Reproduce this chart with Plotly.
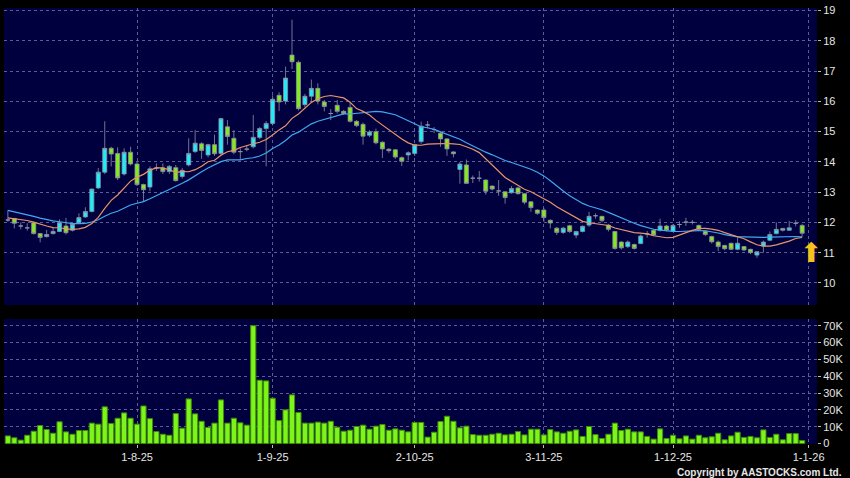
import plotly.graph_objects as go
import pandas as pd

# ---- trading calendar (HK) ----
holidays = ["2025-10-01", "2025-10-07", "2025-10-29", "2025-12-25", "2025-12-26"]
dates = [d for d in pd.bdate_range("2025-07-04", "2025-12-31")
         if d.strftime("%Y-%m-%d") not in holidays]

tick_labels = ["1-8-25", "1-9-25", "2-10-25", "3-11-25", "1-12-25", "1-1-26"]
tick_dates = ["2025-08-01", "2025-09-01", "2025-10-02", "2025-11-03", "2025-12-01", "2026-01-01"]

# ---- OHLC ----
open_ = [12.08, 12.13, 11.88, 11.82, 11.99, 11.63, 11.53, 11.63, 11.70, 11.88,
         11.74, 11.99, 12.18, 12.36, 13.14, 13.66, 14.45, 14.28, 13.60, 14.32,
         13.93, 13.25, 13.17, 13.80, 13.80, 13.68, 13.81, 13.52, 13.90, 14.34,
         14.60, 14.23, 14.57, 14.28, 15.16, 14.78, 14.34, 14.42, 14.50, 14.81,
         15.10, 15.27, 16.20, 16.01, 17.53, 17.29, 15.89, 16.17, 16.43, 15.98,
         15.60, 15.87, 15.67, 15.80, 15.34, 15.24, 14.88, 15.00, 14.65, 14.42,
         14.40, 14.14, 14.23, 14.28, 14.67, 15.22, 15.07, 14.95, 14.76, 14.33,
         13.75, 13.90, 13.46, 13.46, 13.40, 13.20, 13.04, 13.01, 12.98, 13.14,
         12.95, 12.68, 12.41, 12.41, 12.07, 11.81, 11.67, 11.89, 11.58, 11.70,
         11.91, 12.22, 12.20, 11.91, 11.70, 11.35, 11.20, 11.27, 11.30, 11.62,
         11.74, 11.74, 11.88, 11.71, 11.93, 12.01, 12.00, 11.90, 11.71, 11.53,
         11.35, 11.24, 11.31, 11.11, 11.20, 11.11, 10.92, 11.22, 11.41, 11.63,
         11.80, 11.74, 11.97, 11.90]
close = [12.08, 11.97, 11.88, 11.82, 11.63, 11.50, 11.60, 11.70, 11.99, 11.66,
         11.94, 12.16, 12.36, 13.10, 13.66, 14.45, 14.26, 13.47, 14.32, 13.93,
         13.25, 13.08, 13.77, 13.80, 13.68, 13.85, 13.38, 13.72, 14.28, 14.62,
         14.38, 14.57, 14.27, 15.43, 14.84, 14.32, 14.34, 14.42, 14.81, 15.10,
         15.27, 16.07, 15.98, 16.77, 17.31, 15.76, 16.17, 16.43, 16.01, 15.83,
         15.60, 15.67, 15.60, 15.34, 15.20, 14.85, 14.99, 14.63, 14.43, 14.37,
         14.16, 14.02, 14.30, 14.57, 15.18, 15.22, 15.07, 14.76, 14.43, 14.27,
         13.93, 13.29, 13.46, 13.46, 13.03, 13.10, 13.04, 12.82, 13.12, 12.95,
         12.67, 12.49, 12.30, 12.16, 11.98, 11.67, 11.81, 11.70, 11.70, 11.87,
         12.20, 12.22, 12.06, 11.77, 11.14, 11.16, 11.35, 11.14, 11.55, 11.62,
         11.58, 11.88, 11.74, 11.90, 11.93, 12.01, 12.00, 11.77, 11.60, 11.36,
         11.20, 11.13, 11.11, 11.31, 11.09, 11.00, 11.03, 11.35, 11.60, 11.77,
         11.74, 11.82, 11.97, 11.64]
high = [12.40, 12.15, 12.00, 11.97, 12.02, 11.65, 11.75, 11.83, 12.10, 12.15,
        11.98, 12.30, 12.50, 13.12, 13.80, 15.34, 14.50, 14.48, 14.45, 14.50,
        14.00, 13.28, 13.85, 13.95, 13.95, 13.90, 13.90, 13.80, 14.78, 15.05,
        14.65, 14.60, 14.90, 15.45, 15.38, 15.05, 14.45, 14.55, 15.55, 15.15,
        15.35, 16.20, 16.30, 17.15, 18.70, 17.35, 16.25, 16.72, 16.60, 16.05,
        15.75, 16.05, 15.72, 15.95, 15.38, 15.30, 15.05, 15.10, 14.68, 14.45,
        14.42, 14.18, 14.35, 14.60, 15.33, 15.35, 15.15, 15.00, 14.78, 14.35,
        14.00, 14.08, 13.55, 13.70, 13.42, 13.22, 13.40, 13.03, 13.20, 13.18,
        12.97, 12.70, 12.43, 12.48, 12.10, 11.85, 11.85, 11.92, 11.72, 11.90,
        12.35, 12.30, 12.22, 11.95, 11.72, 11.38, 11.40, 11.30, 11.60, 11.72,
        11.78, 12.12, 11.92, 11.95, 12.04, 12.15, 12.08, 11.93, 11.74, 11.56,
        11.40, 11.26, 11.33, 11.50, 11.22, 11.13, 11.05, 11.40, 11.70, 12.00,
        11.82, 12.05, 12.08, 11.95]
low = [12.02, 11.80, 11.77, 11.73, 11.60, 11.34, 11.50, 11.60, 11.68, 11.60,
       11.70, 11.97, 12.15, 12.33, 13.10, 13.60, 13.85, 13.40, 13.55, 13.88,
       13.20, 12.68, 13.03, 13.70, 13.60, 13.60, 13.35, 13.45, 13.85, 14.30,
       14.10, 14.15, 14.20, 14.20, 14.57, 14.25, 14.07, 14.35, 14.45, 14.75,
       13.85, 15.20, 15.68, 15.90, 17.07, 15.70, 15.80, 16.00, 15.90, 15.67,
       15.38, 15.60, 15.55, 15.30, 15.15, 14.57, 14.82, 14.58, 14.13, 14.30,
       14.10, 13.86, 14.05, 14.20, 14.60, 15.10, 14.95, 14.50, 14.20, 14.15,
       13.28, 13.27, 13.30, 13.35, 12.92, 13.05, 12.88, 12.62, 12.95, 12.92,
       12.60, 12.35, 12.25, 12.02, 11.80, 11.58, 11.62, 11.65, 11.48, 11.67,
       11.85, 12.12, 12.00, 11.70, 11.10, 11.10, 11.15, 11.10, 11.28, 11.50,
       11.55, 11.70, 11.70, 11.68, 11.82, 11.88, 11.93, 11.72, 11.55, 11.30,
       11.05, 11.08, 11.08, 11.08, 11.05, 10.95, 10.83, 11.00, 11.38, 11.60,
       11.70, 11.72, 11.87, 11.53]
volume_k = [4.5, 3.4, 2.0, 4.9, 7.3, 10.7, 8.3, 6.1, 12.9, 6.9,
            5.5, 7.7, 7.7, 12.1, 11.5, 21.8, 11.9, 15.0, 18.2, 15.0,
            11.5, 22.3, 14.8, 7.1, 5.5, 4.9, 17.8, 9.1, 26.5, 17.6,
            13.2, 9.5, 12.1, 25.9, 12.1, 15.0, 12.3, 10.9, 70.0, 37.6,
            37.2, 26.9, 13.6, 20.0, 28.9, 18.4, 12.1, 12.1, 12.7, 12.1,
            13.2, 9.7, 7.3, 7.9, 10.1, 10.9, 8.5, 10.3, 11.3, 7.9,
            8.7, 7.9, 6.9, 12.5, 12.5,
            3.8, 6.7, 13.1, 16.2, 13.2, 9.3, 10.3, 5.3, 4.9, 4.9,
            5.5, 6.1, 5.1, 5.5, 7.1, 5.1, 8.5, 8.5, 5.1, 8.3,
            6.9, 6.1, 7.3, 8.1, 4.2, 10.1, 5.3, 3.0, 5.5, 12.1,
            7.7, 8.5, 6.9, 6.9, 4.2, 2.6, 8.7, 3.0, 4.9, 2.8,
            4.5, 2.6, 4.9, 3.4, 4.0, 6.1, 2.2, 4.5, 6.7, 3.6,
            4.2, 3.4, 8.1, 3.6, 5.5, 2.2, 5.9, 5.9, 1.8]
# estimated closes before the visible window (needed to seed the moving averages)
prior_close = [12.9, 12.85, 12.8, 12.75, 12.7, 12.6, 12.55, 12.5, 12.45, 12.4,
               12.2, 12.15, 12.2, 12.15, 12.2, 12.2, 12.2, 12.05, 12.07]

price_ticks = list(range(10, 20))
vol_ticks = [0, 10000, 20000, 30000, 40000, 50000, 60000, 70000]
vol_tick_text = ["0", "10K", "20K", "30K", "40K", "50K", "60K", "70K"]

n = len(dates)
assert n == len(open_) == len(close) == len(high) == len(low) == len(volume_k)
x = list(range(n))
date_str = [d.strftime("%Y-%m-%d") for d in dates]
tick_pos = [date_str.index(t) if t in date_str else n for t in tick_dates]

s = pd.Series(prior_close + close)
ma10 = s.rolling(10).mean().iloc[len(prior_close):].tolist()
ma20 = s.rolling(20).mean().iloc[len(prior_close):].tolist()
volume = [v * 1000 for v in volume_k]

grid = "rgba(115,115,170,0.8)"
font_col = "#e6e6e6"

fig = go.Figure()
fig.add_trace(go.Candlestick(
    x=x, open=open_, high=high, low=low, close=close,
    increasing=dict(fillcolor="#1fecf6", line=dict(color="#8f8fa6", width=0.8)),
    decreasing=dict(fillcolor="#84e81e", line=dict(color="#8f8fa6", width=0.8)),
    whiskerwidth=0, xaxis="x", yaxis="y", hoverinfo="skip"))
fig.add_trace(go.Scatter(x=x, y=ma20, mode="lines",
                         line=dict(color="#41a8f0", width=1.2), xaxis="x", yaxis="y"))
fig.add_trace(go.Scatter(x=x, y=ma10, mode="lines",
                         line=dict(color="#e89468", width=1.2), xaxis="x", yaxis="y"))
fig.add_trace(go.Bar(x=x, y=volume, marker=dict(color="#7ef51a", line=dict(color="#3d8c08", width=1)),
                     xaxis="x", yaxis="y2"))

fig.update_layout(
    width=850, height=478,
    margin=dict(l=4, r=33, t=8, b=34),
    paper_bgcolor="black", plot_bgcolor="#00003e",
    showlegend=False, bargap=0.2, boxgap=0.1,
    font=dict(family="Liberation Sans, Arial", color=font_col, size=11),
    xaxis=dict(domain=[0, 1], anchor="y2", range=[-0.6, 125.3], automargin=False,
               tickvals=tick_pos, ticktext=tick_labels,
               showgrid=True, gridcolor=grid, griddash="3px,3px", gridwidth=1,
               ticks="outside", ticklen=3, tickcolor="#bbbbbb",
               tickfont=dict(size=11, color=font_col),
               rangeslider=dict(visible=False), zeroline=False, showline=False),
    yaxis=dict(domain=[0.3188, 1], range=[9.27, 19.086], side="right", automargin=False,
               tickvals=price_ticks, showgrid=True, gridcolor=grid, griddash="3px,3px",
               ticks="outside", ticklen=3, tickcolor="#bbbbbb",
               tickfont=dict(size=11, color=font_col), zeroline=False),
    yaxis2=dict(domain=[0, 0.2867], range=[-300, 74000], side="right", automargin=False,
                tickvals=vol_ticks, ticktext=vol_tick_text,
                showgrid=True, gridcolor=grid, griddash="3px,3px",
                ticks="outside", ticklen=3, tickcolor="#bbbbbb",
                tickfont=dict(size=11, color=font_col), zeroline=False),
)

fig.add_annotation(x=124.4, y=11.0, xref="x", yref="y", text="⬆", showarrow=False,
                   font=dict(size=27, color="#f7c21c", family="DejaVu Sans"))
fig.add_annotation(x=1.033, y=-0.066, xref="paper", yref="paper",
                   text="<b>Copyright by AASTOCKS.com Ltd.</b>", showarrow=False,
                   xanchor="right", yanchor="middle",
                   font=dict(size=10, color=font_col, family="Liberation Sans, Arial"))

fig.write_html("out.html", config={"displayModeBar": False},
               post_script="document.body.style.margin='0';document.body.style.background='black';")
